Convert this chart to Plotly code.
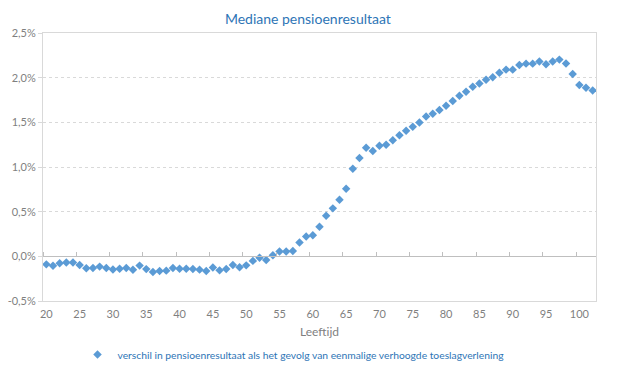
import plotly.graph_objects as go

ages = list(range(20, 103))
verschil = [
    -0.090, -0.105, -0.078, -0.070, -0.070, -0.097, -0.134, -0.130, -0.115, -0.130,
    -0.147, -0.138, -0.130, -0.150, -0.104, -0.143, -0.175, -0.164, -0.160, -0.130,
    -0.138, -0.138, -0.141, -0.149, -0.164, -0.126, -0.157, -0.141, -0.096, -0.123,
    -0.101, -0.051, -0.015, -0.040, 0.011, 0.053, 0.053, 0.060, 0.155, 0.222,
    0.235, 0.332, 0.455, 0.537, 0.634, 0.757, 0.981, 1.100, 1.216, 1.179,
    1.238, 1.249, 1.300, 1.356, 1.406, 1.451, 1.499, 1.566, 1.596, 1.638,
    1.686, 1.738, 1.798, 1.842, 1.898, 1.935, 1.977, 2.004, 2.055, 2.090,
    2.090, 2.141, 2.157, 2.157, 2.180, 2.150, 2.181, 2.202, 2.159, 2.040,
    1.917, 1.887, 1.857,
]
x_tickvals = list(range(20, 101, 5))
x_ticks_between = [v - 0.5 for v in range(20, 101, 5)]
y_tickvals = [-0.5, 0.0, 0.5, 1.0, 1.5, 2.0, 2.5]
y_ticktext = ["-0,5%", "0,0%", "0,5%", "1,0%", "1,5%", "2,0%", "2,5%"]

title = "Mediane pensioenresultaat"
series_name = "verschil in pensioenresultaat als het gevolg van eenmalige verhoogde toeslagverlening"

FONT = "Lato"
BLUE = "#5B9BD5"
GRAY_TXT = "#7f7f7f"
BORDER = "#d9d9d9"

fig = go.Figure()
fig.add_trace(go.Scatter(
    x=ages, y=verschil, mode="markers", name=series_name,
    marker=dict(symbol="diamond", size=6.5, color=BLUE),
))
# helper trace so the zero-crossing category axis is drawn
fig.add_trace(go.Scatter(
    x=[ages[0]], y=[0], mode="markers", xaxis="x2", showlegend=False,
    marker=dict(opacity=0), hoverinfo="skip",
))

fig.update_layout(
    width=617, height=370,
    margin=dict(l=43, r=21, t=33, b=69, autoexpand=False),
    paper_bgcolor="white", plot_bgcolor="white",
    font=dict(family=FONT, color=GRAY_TXT, size=11),
    title=dict(text=title, x=0.499, xref="container", xanchor="center", y=0.9486, yanchor="middle",
               font=dict(family=FONT, size=14, color="#2E75B6")),
    showlegend=True,
    legend=dict(orientation="h", x=0.453, xanchor="center", y=-0.2, yanchor="middle",
                font=dict(family=FONT, size=10.3, color="#2E75B6"),
                itemwidth=30, bgcolor="rgba(0,0,0,0)"),
    xaxis=dict(
        range=[19.5, 102.5], tickvals=x_tickvals, ticks="outside", ticklen=3,
        tickcolor="rgba(0,0,0,0)", showgrid=False, zeroline=False,
        showline=True, mirror=True, linecolor=BORDER, linewidth=1, automargin=False,
        tickfont=dict(size=11, color=GRAY_TXT),
        title=dict(text="Leeftijd", font=dict(size=12, color=GRAY_TXT), standoff=8),
    ),
    xaxis2=dict(
        range=[19.5, 102.5], overlaying="x", anchor="free", position=1/6, side="top",
        showline=True, linecolor="#bfbfbf", linewidth=1, automargin=False,
        tickvals=x_ticks_between, ticks="outside", ticklen=4, tickcolor="#bfbfbf",
        showticklabels=False, showgrid=False, zeroline=False,
    ),
    yaxis=dict(
        range=[-0.5, 2.5], tickvals=y_tickvals, ticktext=y_ticktext,
        showgrid=True, gridcolor=BORDER, griddash="3px,3px", gridwidth=1, automargin=False,
        zeroline=False, showline=True, mirror=True, linecolor=BORDER, linewidth=1,
        ticks="outside", ticklen=4, tickcolor=BORDER,
        tickfont=dict(size=11, color=GRAY_TXT),
    ),
)

fig.write_html("out.html", config={"displayModeBar": False},
               post_script="document.body.style.margin='0';")
